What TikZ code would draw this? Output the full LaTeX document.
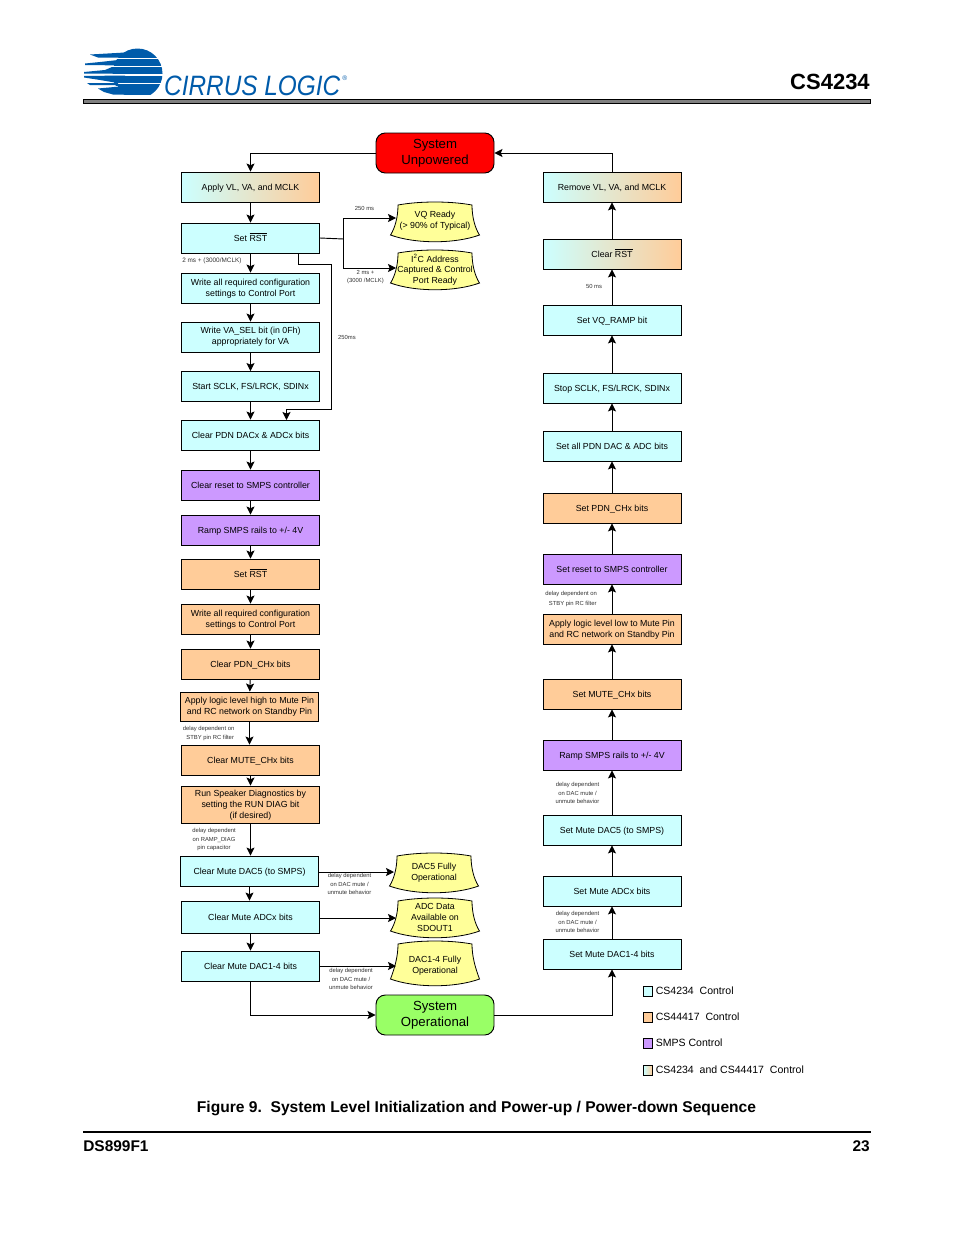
\documentclass[tikz,border=0pt]{standalone}
\usepackage{fontspec}
\usetikzlibrary{arrows.meta}
\setmainfont{Liberation Sans}
\definecolor{csc}{HTML}{CCFFFF}
\definecolor{ckc}{HTML}{FFCC99}
\definecolor{smc}{HTML}{CC99FF}
\definecolor{ylc}{HTML}{FFFF99}
\definecolor{cirrus}{HTML}{005BAA}
\definecolor{barg}{HTML}{808080}
\newcommand{\yshape}[3]{% centre x, top y, height
  \path[yel] (#1-37,#2+3) .. controls (#1-15,#2-1) and (#1+15,#2-1) .. (#1+37,#2+3)
    .. controls (#1+37,#2+15) and (#1+40,#2+26) .. (#1+44.5,#2+#3-7)
    .. controls (#1+20,#2+#3+2) and (#1-20,#2+#3+2) .. (#1-44.5,#2+#3-7)
    .. controls (#1-40,#2+26) and (#1-37,#2+15) .. (#1-37,#2+3) -- cycle;}
\newcommand{\dn}{\rule{0pt}{6.5pt}}
\begin{document}
\begin{tikzpicture}[x=0.75pt,y=-0.75pt,
  every node/.style={inner sep=0pt,align=center},
  box/.style={draw=black,line width=0.65pt,minimum width=103.5pt,minimum height=22.5pt,font=\fontsize{6.6}{8.2}\selectfont},
  one/.style={text height=4.7pt,text depth=0pt},
  cs/.style={box,fill=csc},
  ck/.style={box,fill=ckc},
  sm/.style={box,fill=smc},
  gr/.style={box,left color=csc,right color=ckc},
  arr/.style={draw=black,line width=0.7pt,-{Stealth[length=6pt,width=6pt,inset=1.2pt]}},
  lin/.style={draw=black,line width=0.7pt},
  note/.style={font=\fontsize{4.4}{6.2}\selectfont,text=black!80},
  yel/.style={draw=black,line width=0.6pt,fill=ylc},
  yt/.style={font=\fontsize{6.6}{8}\selectfont},
  sys/.style={draw=black,line width=0.7pt,rounded corners=7pt,minimum width=88.5pt,minimum height=30pt,font=\fontsize{9.9}{12}\selectfont},
  leg/.style={draw=black,line width=0.5pt,minimum width=6.5pt,minimum height=7.5pt},
  legt/.style={anchor=west,font=\fontsize{7.9}{8}\selectfont}
]
\useasboundingbox (0,0) rectangle (954,1235);
\fill[white] (0,0) rectangle (954,1235);
% logo
\begin{scope}
 \clip (85,44) rectangle (170,94.5);
 \fill[cirrus] (137.5,73.5) circle (25);
\end{scope}
\foreach \ya/\yb/\xa in {57.5/59/100,65.5/67/100,73.5/75.5/100,82.5/84/112}{
  \fill[white] (\xa,\ya) rectangle (165,\yb);}
\fill[white] (100,85.5) rectangle (118,95);
\fill[cirrus] (90,54.5) -- (125,52.5) -- (125,57.5) -- (98,57.5) -- cycle;
\fill[cirrus] (85,63.5) -- (100,62) -- (118,60) -- (125,59) -- (125,65.5) -- (85,65) -- cycle;
\fill[cirrus] (84,72) -- (105,70) -- (112,67) -- (125,67) -- (125,73.5) -- (84,73.5) -- cycle;
\fill[cirrus] (84,76) -- (125,75.5) -- (125,82.5) -- (115,82.5) -- (100,80) -- (84,77.5) -- cycle;
\fill[cirrus] (87,83) -- (118,83) -- (118,85) -- (90,85) -- cycle;
\fill[cirrus] (98,88.5) -- (125,86) -- (125,94.5) -- (113,94.5) -- (104,92) -- cycle;
\node[anchor=base west,font=\itshape\fontsize{21}{21}\selectfont,text=cirrus,xscale=0.87] (logo) at (164,95) {CIRRUS LOGIC};
\node[anchor=base west,font=\fontsize{5}{5}\selectfont,text=cirrus] (reg) at (342,80.5) {®};
\node[anchor=base east,font=\bfseries\fontsize{16.5}{16.5}\selectfont] (hd) at (870,89) {CS4234};
\path[draw=black,fill=barg,line width=0.6pt] (83.5,99) rectangle (870.5,103);
% systems
\node[sys,fill=red] (unp) at (435,153) {System\\Unpowered};
\node[sys,fill={rgb,255:red,153;green,255;blue,102}] (op) at (435,1015) {System\\Operational};
% left column
\node[gr,one] (a1) at (250.5,187) {Apply VL, VA, and MCLK};
\node[cs,one] (a2) at (250.5,238) {Set $\overline{\mbox{RST}}$};
\node[cs] (a3) at (250.5,288) {\dn Write all required configuration\\settings to Control Port};
\node[cs] (a4) at (250.5,337) {Write VA\_SEL bit (in 0Fh)\\appropriately for VA};
\node[cs,one] (a5) at (250.5,386.5) {Start SCLK, FS/LRCK, SDINx};
\node[cs,one] (a6) at (250.5,435) {Clear PDN DACx \& ADCx bits};
\node[sm,one] (a7) at (250.5,485) {Clear reset to SMPS controller};
\node[sm,one] (a8) at (250.5,530) {Ramp SMPS rails to +/- 4V};
\node[ck,one] (a9) at (250.5,574) {Set $\overline{\mbox{RST}}$};
\node[ck] (a10) at (250.5,619) {\dn Write all required configuration\\settings to Control Port};
\node[ck,one] (a11) at (250.5,664) {Clear PDN\_CHx bits};
\node[ck,minimum height=21.75pt] (a12) at (249.5,706.5) {Apply logic level high to Mute Pin\\and RC network on Standby Pin};
\node[ck,one] (a13) at (250.5,760) {Clear MUTE\_CHx bits};
\node[ck,minimum height=27.75pt] (a14) at (250.5,804.5) {\dn Run Speaker Diagnostics by\\setting the RUN DIAG bit\\(if desired)};
\node[cs,one] (a15) at (249.5,871) {Clear Mute DAC5 (to SMPS)};
\node[cs,one,minimum height=24pt] (a16) at (250.5,917) {Clear Mute ADCx bits};
\node[cs,one] (a17) at (250.5,966) {Clear Mute DAC1-4 bits};
% right column
\node[gr,one] (b1) at (612,187) {Remove VL, VA, and MCLK};
\node[gr,one] (b2) at (612,254) {Clear $\overline{\mbox{RST}}$};
\node[cs,one] (b3) at (612,320) {Set VQ\_RAMP bit};
\node[cs,one] (b4) at (612,388) {Stop SCLK, FS/LRCK, SDINx};
\node[cs,one] (b5) at (612,446) {Set all PDN DAC \& ADC bits};
\node[ck,one] (b6) at (612,508) {Set PDN\_CHx bits};
\node[sm,one] (b7) at (612,569) {Set reset to SMPS controller};
\node[ck] (b8) at (612,629) {\dn Apply logic level low to Mute Pin\\and RC network on Standby Pin};
\node[ck,one] (b9) at (612,694) {Set MUTE\_CHx bits};
\node[sm,one] (b10) at (612,755) {Ramp SMPS rails to +/- 4V};
\node[cs,one] (b11) at (612,830) {Set Mute DAC5 (to SMPS)};
\node[cs,one] (b12) at (612,891) {Set Mute ADCx bits};
\node[cs,one] (b13) at (612,954) {Set Mute DAC1-4 bits};
% yellow shapes
\yshape{435}{202}{40}
\node[yt] (y1) at (435,221) {VQ Ready\\(> 90\% of Typical)};
\yshape{435}{250}{40}
\node[yt] (y2) at (435,269.5) {I\textsuperscript{2}C Address\\Captured \& Control\\Port Ready};
\yshape{434}{853}{40}
\node[yt] (y3) at (434,873) {DAC5 Fully\\Operational};
\yshape{435}{898}{40}
\node[yt] (y4) at (435,917.5) {ADC Data\\Available on\\SDOUT1};
\yshape{435}{941}{45}
\node[yt] (y5) at (435,966) {DAC1-4 Fully\\Operational};
\coordinate (y1w) at (396,218);
\coordinate (y2w) at (396,268);
\coordinate (y3w) at (394,872);
\coordinate (y4w) at (396,918);
\coordinate (y5w) at (396,966);
\coordinate (hub) at (343.5,239);
\coordinate (rs) at (298.5,253);
\coordinate (r1) at (298.5,264.5);
\coordinate (r2) at (331.5,264.5);
\coordinate (r3) at (331.5,409);
\coordinate (r4) at (286.5,409);
\coordinate (r5) at (286.5,420);
% left flow
\foreach \p/\q in {a1/a2,a2/a3,a3/a4,a4/a5,a5/a6,a6/a7,a7/a8,a8/a9,a9/a10,a10/a11,a11/a12,a13/a14}
  \draw[arr] (\p) -- (\q);
\draw[arr] (a12.south) -- (a12.south |- a13.north);
\draw[arr] (a14.south) -- (a14.south |- a15.north);
\draw[arr] (a15.south) -- (a15.south |- a16.north);
\draw[arr] (a16) -- (a17);
\draw[arr] (unp.west) -| (a1.north);
\draw[arr] (a17.south) |- (op.west);
\draw[lin] (a2.east) -- (hub);
\draw[arr] (hub) |- (y1w);
\draw[arr] (hub) |- (y2w);
\draw[arr] (rs) -- (r1) -- (r2) -- (r3) -- (r4) -- (r5);
\draw[arr] (a15.east |- y3w) -- (y3w);
\draw[arr] (a16.east |- y4w) -- (y4w);
\draw[arr] (a17.east |- y5w) -- (y5w);
% right flow
\foreach \p/\q in {b2/b1,b3/b2,b4/b3,b5/b4,b6/b5,b7/b6,b8/b7,b9/b8,b10/b9,b11/b10,b12/b11,b13/b12}
  \draw[arr] (\p) -- (\q);
\draw[arr] (op.east) -| (b13.south);
\draw[arr] (b1.north) |- (unp.east);
% notes
\node[note] (n1) at (364.5,208) {250 ms};
\node[note,anchor=west,font=\fontsize{4.8}{6.2}\selectfont] (n2) at (182,260.5) {2 ms + (3000/MCLK)};
\node[note] (n3) at (365.5,277) {2 ms +\\(3000 /MCLK)};
\node[note] (n4) at (347,337) {250ms};
\node[note,anchor=west,font=\fontsize{4.4}{6.8}\selectfont] (n5) at (182.5,733.5) {delay dependent on\\\ \ STBY pin RC filter};
\node[note] (n6) at (214,839.5) {delay dependent\\on RAMP\_DIAG\\pin capacitor};
\node[note] (n7) at (349.5,884) {delay dependent\\on DAC mute /\\unmute behavior};
\node[note] (n8) at (351,979) {delay dependent\\on DAC mute /\\unmute behavior};
\node[note] (n9) at (594,286.5) {50 ms};
\node[note,anchor=west,font=\fontsize{4.4}{6.8}\selectfont] (n10) at (545,599) {delay dependent on\\\ \ STBY pin RC filter};
\node[note] (n11) at (577.5,793) {delay dependent\\on DAC mute /\\unmute behavior};
\node[note] (n12) at (577.5,922) {delay dependent\\on DAC mute /\\unmute behavior};
% legend
\node[leg,fill=csc] (l1) at (648,991) {};
\node[leg,fill=ckc] (l2) at (648,1017) {};
\node[leg,fill=smc] (l3) at (648,1043) {};
\node[leg,left color=csc,right color=ckc] (l4) at (648,1070) {};
\node[legt] (lt1) at (655.5,990.5) {CS4234\ \ Control};
\node[legt] (lt2) at (655.5,1016.5) {CS44417\ \ Control};
\node[legt] (lt3) at (655.5,1043) {SMPS Control};
\node[legt] (lt4) at (655.5,1070) {CS4234\ \ and CS44417\ \ Control};
% caption / footer
\node[font=\bfseries\fontsize{11.7}{12}\selectfont] (cap) at (476.5,1108) {Figure 9.\ \ System Level Initialization and Power-up / Power-down Sequence};
\draw[black,line width=0.8pt] (83,1132) -- (870.5,1132);
\node[anchor=base west,font=\bfseries\fontsize{11.6}{12}\selectfont] (ft1) at (83,1151) {DS899F1};
\node[anchor=base east,font=\bfseries\fontsize{11.6}{12}\selectfont] (ft2) at (870,1151) {23};
\end{tikzpicture}
\end{document}
